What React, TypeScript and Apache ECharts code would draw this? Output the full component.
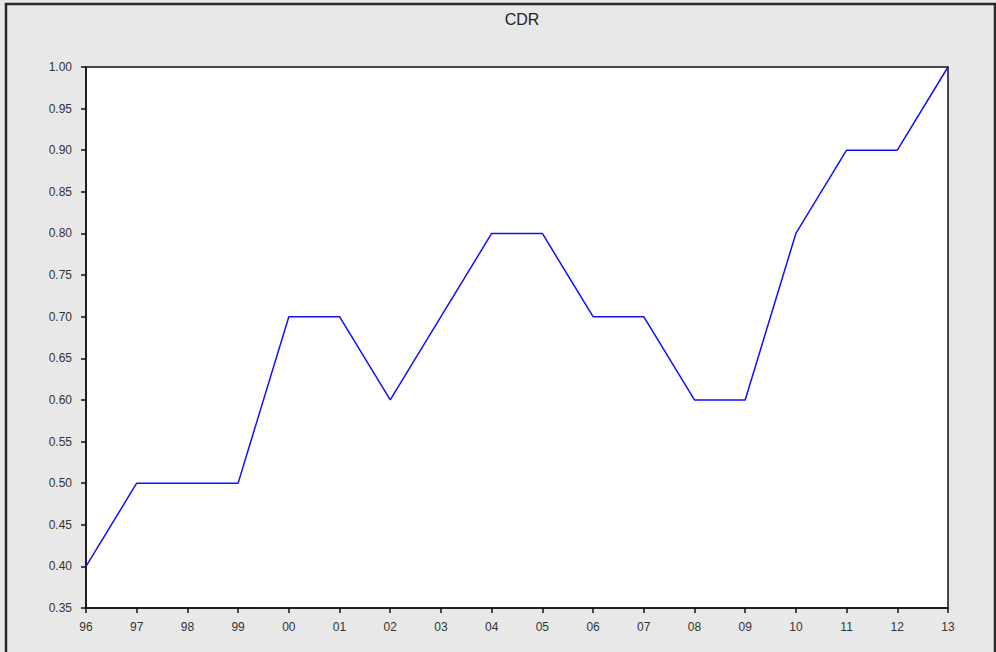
import React, { useEffect, useRef } from "react";
import * as echarts from "echarts";

const years = ["96", "97", "98", "99", "00", "01", "02", "03", "04", "05", "06", "07", "08", "09", "10", "11", "12", "13"];
const cdr = [0.40, 0.50, 0.50, 0.50, 0.70, 0.70, 0.60, 0.70, 0.80, 0.80, 0.70, 0.70, 0.60, 0.60, 0.80, 0.90, 0.90, 1.00];

export default function App() {
  const ref = useRef<HTMLDivElement>(null);
  useEffect(() => {
    const chart = echarts.init(ref.current!, null, { renderer: "svg" });
    chart.setOption({
      animation: false,
      backgroundColor: "#e8e8e8",
      title: {
        text: "CDR",
        left: 517,
        textAlign: "center",
        top: 6,
        textStyle: { fontFamily: "Liberation Sans", fontSize: 16, fontWeight: "normal", color: "#222" },
      },
      graphic: [
        {
          type: "rect",
          shape: { x: 6, y: 4, width: 989, height: 660 },
          style: { fill: "none", stroke: "#2a2a2a", lineWidth: 2.5 },
          silent: true,
        },
      ],
      grid: {
        left: 86,
        right: 48,
        top: 67,
        bottom: 44,
        show: true,
        backgroundColor: "#ffffff",
        borderColor: "#111",
        borderWidth: 1.5,
      },
      xAxis: {
        type: "category",
        data: years,
        boundaryGap: false,
        axisLine: { lineStyle: { color: "#111", width: 1.5 } },
        axisTick: { show: true, length: 5, lineStyle: { color: "#111", width: 1.5 } },
        axisLabel: { color: "#333", fontFamily: "Liberation Sans", fontSize: 12, margin: 13 },
        splitLine: { show: false },
      },
      yAxis: {
        type: "value",
        min: 0.35,
        max: 1.0,
        interval: 0.05,
        axisLine: { show: true, lineStyle: { color: "#111", width: 1.5 } },
        axisTick: { show: true, length: 5, lineStyle: { color: "#111", width: 1.5 } },
        axisLabel: {
          color: "#333",
          fontFamily: "Liberation Sans",
          fontSize: 12,
          margin: 14,
          formatter: (v: number) => v.toFixed(2),
        },
        splitLine: { show: false },
      },
      series: [
        {
          type: "line",
          data: cdr,
          symbol: "none",
          lineStyle: { color: "#1010ff", width: 1.5 },
        },
      ],
    });
    return () => chart.dispose();
  }, []);
  return <div ref={ref} style={{ position: "absolute", left: 0, top: 0, width: 996, height: 652 }} />;
}
